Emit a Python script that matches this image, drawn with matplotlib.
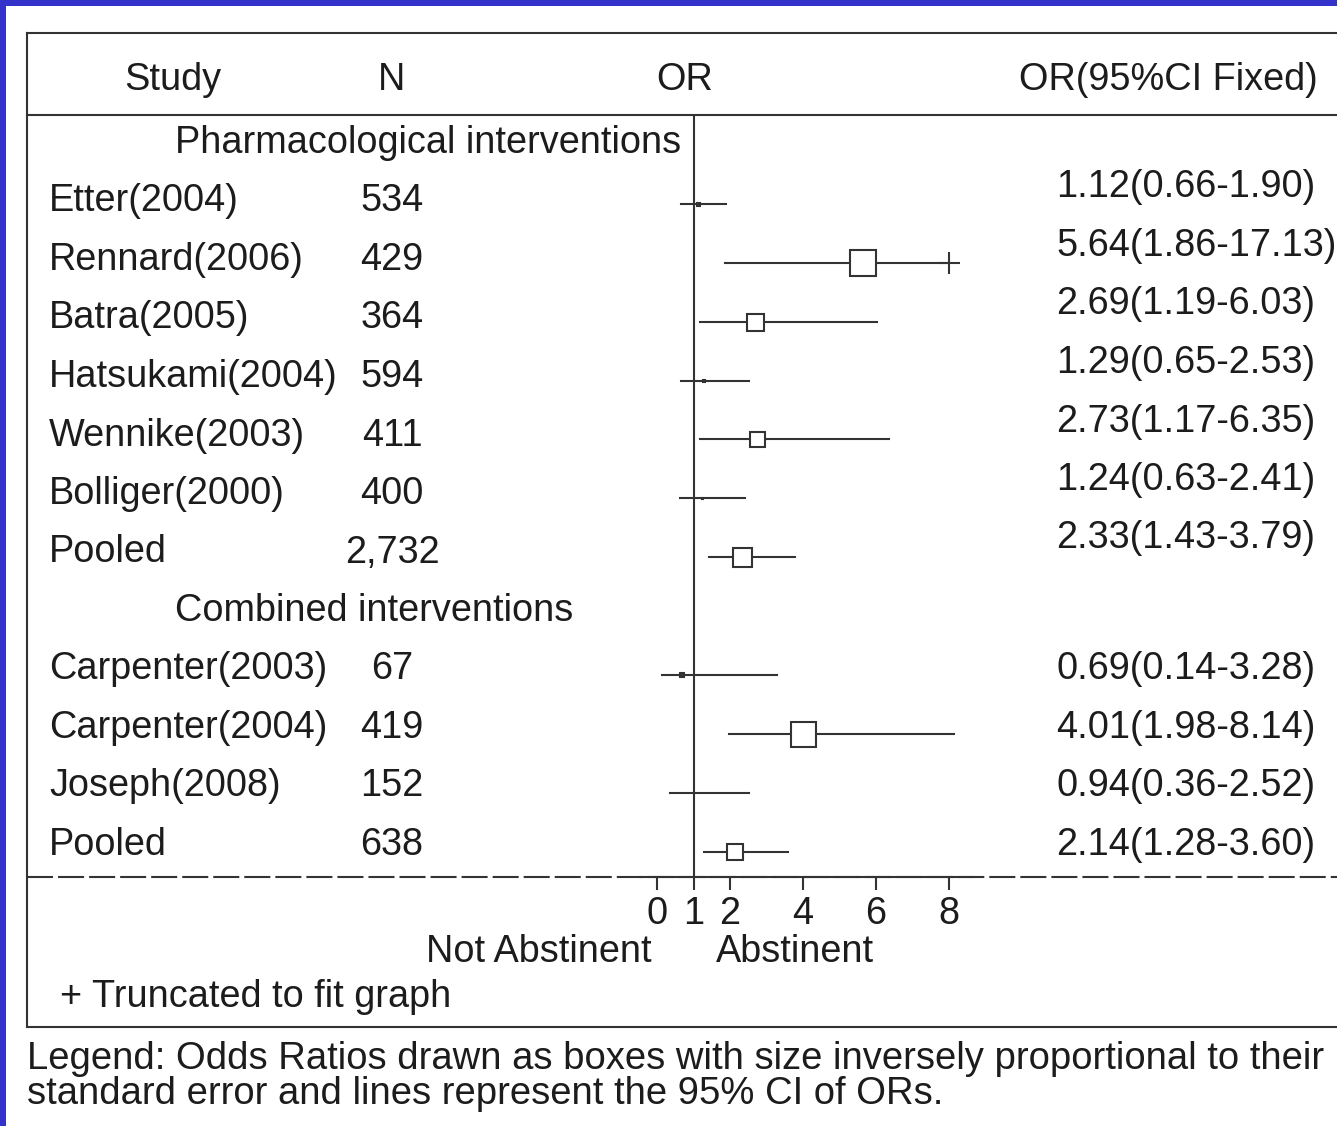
import matplotlib
matplotlib.use('Agg')
import matplotlib.pyplot as plt
from matplotlib.patches import Rectangle

plt.rcParams['font.family'] = ['Liberation Sans', 'DejaVu Sans']

# data
group1_names = ['Etter(2004)', 'Rennard(2006)', 'Batra(2005)', 'Hatsukami(2004)',
                'Wennike(2003)', 'Bolliger(2000)', 'Pooled']
group1_n = ['534', '429', '364', '594', '411', '400', '2,732']
group1_or = [1.12, 5.64, 2.69, 1.29, 2.73, 1.24, 2.33]
group1_lo = [0.66, 1.86, 1.19, 0.65, 1.17, 0.63, 1.43]
group1_hi = [1.90, 17.13, 6.03, 2.53, 6.35, 2.41, 3.79]
group1_wt = [5, 29, 19, 4, 17, 3, 21]   # box side, inverse SE

group2_names = ['Carpenter(2003)', 'Carpenter(2004)', 'Joseph(2008)', 'Pooled']
group2_n = ['67', '419', '152', '638']
group2_or = [0.69, 4.01, 0.94, 2.14]
group2_lo = [0.14, 1.98, 0.36, 1.28]
group2_hi = [3.28, 8.14, 2.52, 3.60]
group2_wt = [6, 27, 0, 18]

group_titles = ['Pharmacological interventions', 'Combined interventions']
x_ticks = [0, 1, 2, 4, 6, 8]
x_trunc = 8       # where truncated CIs stop
x_limit = 8.5     # beyond this a CI is truncated

W, H = 1337, 1126
fig = plt.figure(figsize=(W / 100, H / 100), dpi=100)
fig.patch.set_facecolor('white')

# pixel -> data helpers (x: OR, y: row index)
def X(px):
    return (px - 657) / 36.5

def Y(px):
    return (px - 145) / 58.9

ax = fig.add_axes([0, 0, 1, 1])
ax.set_facecolor('none')
ax.set_xlim(X(0), X(W))
ax.set_ylim(Y(H), Y(0))

ink = '#333333'
txt = '#1c1c1c'
fs = 27.3
lw = 1.5

# frame
ax.plot([X(27), X(W)], [Y(33), Y(33)], color=ink, lw=lw)
ax.plot([X(27), X(W)], [Y(115), Y(115)], color=ink, lw=lw)
ax.plot([X(27), X(W)], [Y(1027), Y(1027)], color=ink, lw=lw)
ax.plot([X(27), X(27)], [Y(33), Y(1027)], color=ink, lw=lw)
ax.plot([X(27), X(W)], [Y(877), Y(877)], color=ink, lw=lw,
        linestyle=(0, (12.5, 2.4)))

# x axis on the spine
for s in ['top', 'right', 'left']:
    ax.spines[s].set_visible(False)
ax.spines['bottom'].set_position(('data', Y(877)))
ax.spines['bottom'].set_bounds(X(640), X(973))
ax.spines['bottom'].set_linewidth(lw)
ax.spines['bottom'].set_color(ink)
ax.set_xticks(x_ticks)
ax.set_xticklabels([str(t) for t in x_ticks])
ax.set_yticks([])
ax.tick_params(axis='x', direction='out', length=9.5, width=lw, color=ink,
               labelsize=fs, labelcolor=txt, pad=4)

# reference line OR = 1
ax.plot([1, 1], [Y(116), Y(877)], color=ink, lw=lw)

# headers
ax.text(X(173), Y(90), 'Study', ha='center', va='baseline', fontsize=fs, color=txt)
ax.text(X(392), Y(90), 'N', ha='center', va='baseline', fontsize=fs, color=txt)
ax.text(X(685), Y(90), 'OR', ha='center', va='baseline', fontsize=fs, color=txt)
ax.text(X(1019), Y(90), 'OR(95%CI Fixed)', ha='left', va='baseline', fontsize=fs, color=txt)

groups = [
    (group1_names, group1_n, group1_or, group1_lo, group1_hi, group1_wt, -14),
    (group2_names, group2_n, group2_or, group2_lo, group2_hi, group2_wt, 0),
]

row = 0
for gi, (names, ns, ors, los, his, wts, shift) in enumerate(groups):
    ax.text(X(175), Y(153 + 58.5 * row), group_titles[gi], ha='left',
            va='baseline', fontsize=fs, color=txt)
    row += 1
    for name, n, o, lo, hi, w in zip(names, ns, ors, los, his, wts):
        base = Y(153 + 58.5 * row)
        ax.text(X(49), base, name, ha='left', va='baseline', fontsize=fs, color=txt)
        ax.text(X(392), base, n, ha='center', va='baseline', fontsize=fs, color=txt)
        ax.text(X(1056), Y(153 + 58.5 * row + shift),
                '%.2f(%.2f-%.2f)' % (o, lo, hi),
                ha='left', va='baseline', fontsize=fs, color=txt)
        if hi > x_limit:
            ax.plot([lo, x_trunc], [row, row], color=ink, lw=lw)
            ax.plot(x_trunc, row, marker='+', ms=16, mew=lw, color=ink)
        else:
            ax.plot([lo, hi], [row, row], color=ink, lw=lw)
        if w > 0:
            ax.plot(o, row, marker='s', ms=max(w - 2, 1) * 0.72, mew=lw,
                    mec=ink, mfc=ink if w < 8 else 'white')
        row += 1

# bottom notes
ax.text(X(652), Y(962), 'Not Abstinent', ha='right', va='baseline', fontsize=fs, color=txt)
ax.text(X(716), Y(962), 'Abstinent', ha='left', va='baseline', fontsize=fs, color=txt)
ax.text(X(60), Y(1007), '+ Truncated to fit graph', ha='left', va='baseline',
        fontsize=fs, color=txt)
ax.text(X(27), Y(1069), 'Legend: Odds Ratios drawn as boxes with size inversely proportional to their',
        ha='left', va='baseline', fontsize=27.5, color=txt)
ax.text(X(27), Y(1104), 'standard error and lines represent the 95% CI of ORs.',
        ha='left', va='baseline', fontsize=27.5, color=txt)

# blue slide border
blue = '#3333cc'
fig.add_artist(Rectangle((0, 1 - 6 / H), 1, 6 / H, transform=fig.transFigure,
                         facecolor=blue, edgecolor='none'))
fig.add_artist(Rectangle((0, 0), 6 / W, 1, transform=fig.transFigure,
                         facecolor=blue, edgecolor='none'))

fig.savefig('out.png', dpi=100)
